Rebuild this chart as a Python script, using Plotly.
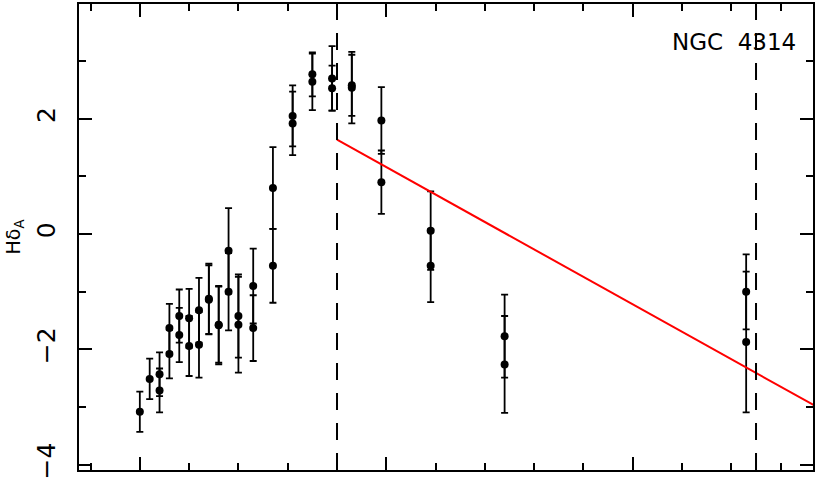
import plotly.graph_objects as go

# radius (arbitrary units along the x axis), H-delta_A index and its 1-sigma error
radius = [0.0, 0.2, 0.4, 0.4, 0.6, 0.6, 0.8, 0.8, 1.0, 1.0,
          1.2, 1.2, 1.4, 1.4, 1.6, 1.6, 1.8, 1.8, 2.0, 2.0,
          2.3, 2.3, 2.7, 2.7, 3.1, 3.1, 3.5, 3.5, 3.9, 3.9,
          4.3, 4.3, 4.9, 4.9, 5.9, 5.9, 7.4, 7.4, 12.3, 12.3]
hdelta = [-3.08, -2.51, -2.43, -2.71, -1.63, -2.08, -1.42, -1.75, -1.46, -1.94,
          -1.32, -1.92, -1.12, -1.14, -1.57, -1.58, -0.29, -1.00, -1.42, -1.57,
          -0.90, -1.63, 0.80, -0.55, 2.05, 1.92, 2.77, 2.64, 2.70, 2.53,
          2.54, 2.58, 1.97, 0.90, 0.06, -0.55, -1.77, -2.26, -1.00, -1.87]
hdelta_err = [0.35, 0.35, 0.38, 0.38, 0.42, 0.42, 0.46, 0.47, 0.51, 0.52,
              0.56, 0.57, 0.61, 0.60, 0.66, 0.68, 0.74, 0.67, 0.72, 0.83,
              0.65, 0.57, 0.71, 0.64, 0.53, 0.55, 0.38, 0.49, 0.56, 0.39,
              0.62, 0.53, 0.58, 0.55, 0.68, 0.63, 0.72, 0.84, 0.65, 1.22]

# linear fit outside the inner region
fit_start = 4.0
fit_end = 14.0
fit_value_at_start = 1.638
fit_slope = -0.476

# region boundaries (dashed lines)
boundaries = [4.0, 12.5]

label = "NGC\u00a0\u00a04314"

FONT = "DejaVu Sans"

fig = go.Figure()

fig.add_trace(go.Scatter(
    x=radius, y=hdelta, mode="markers",
    marker=dict(color="black", size=8),
    error_y=dict(type="data", array=hdelta_err, color="black",
                 thickness=1.8, width=3.5),
    showlegend=False,
))

fit_x = [fit_start, fit_end]
fit_y = [fit_value_at_start + fit_slope * (x - fit_start) for x in fit_x]
fig.add_trace(go.Scatter(
    x=fit_x, y=fit_y, mode="lines",
    line=dict(color="#ff0000", width=2),
    showlegend=False,
))

for b in boundaries:
    fig.add_vline(x=b, line_width=2, line_color="black", line_dash="17px,13px")

fig.add_annotation(x=12.06, y=3.33, text=label, showarrow=False,
                   font=dict(family=FONT, size=23, color="black"))

axis_common = dict(
    showline=True, linecolor="black", linewidth=2, mirror="allticks",
    ticks="inside", tickcolor="black", tickwidth=1.5, ticklen=13,
    showgrid=False, zeroline=False,
)

fig.update_xaxes(
    range=[-1.234, 13.656], tick0=0, dtick=5, showticklabels=False,
    minor=dict(ticks="inside", dtick=1, ticklen=7, tickwidth=1.5,
               tickcolor="black", showgrid=False),
    **axis_common,
)
fig.update_yaxes(
    range=[-4.09, 3.99], tick0=0, dtick=2, tickangle=-90,
    tickfont=dict(family=FONT, size=25, color="black"),
    ticklabelstandoff=12,
    title=dict(text="Hδ<sub>A</sub>", font=dict(family=FONT, size=19, color="black"),
               standoff=6),
    minor=dict(ticks="inside", dtick=1, ticklen=7, tickwidth=1.5,
               tickcolor="black", showgrid=False),
    **axis_common,
)

fig.update_layout(
    width=817, height=484,
    margin=dict(l=79, r=2, t=2, b=14),
    paper_bgcolor="white", plot_bgcolor="white",
    font=dict(family=FONT, color="black"),
)

# the page body has a default 8px margin; drop it so the figure sits at 0,0
fig.write_html("out.html", config={"displayModeBar": False},
               post_script="document.body.style.margin='0';")
